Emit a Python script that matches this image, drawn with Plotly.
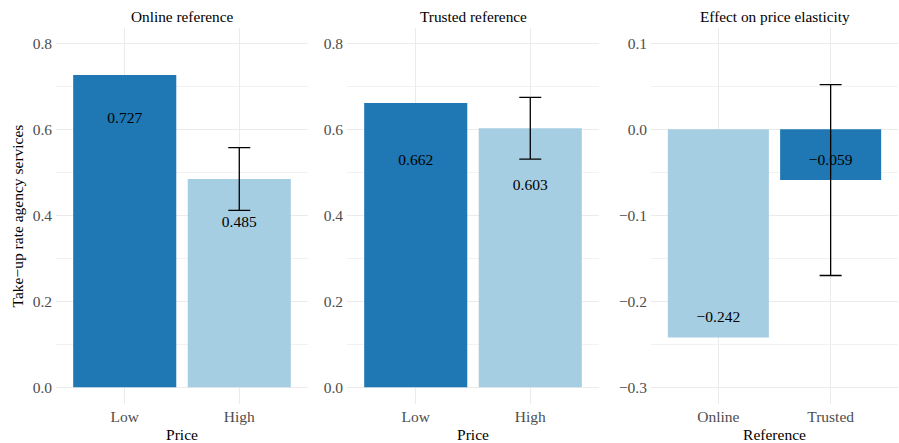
import plotly.graph_objects as go

# ---- data ----
price_levels = ["Low", "High"]
online_takeup = [0.727, 0.485]
online_err = [None, 0.073]
trusted_takeup = [0.662, 0.603]
trusted_err = [None, 0.072]
reference_levels = ["Online", "Trusted"]
elasticity = [-0.242, -0.059]
elasticity_err = [None, 0.111]

panel_titles = ["Online reference", "Trusted reference", "Effect on price elasticity"]
label_shift_takeup_online = -0.102
label_shift_takeup_trusted = -0.135
label_shift_elasticity = 0.022

DARK = "#1F78B4"
LIGHT = "#A6CEE3"
FONT = "Liberation Serif, Times New Roman, serif"

W, H = 899, 443
ML, MR, MT, MB = 56, 0, 28, 39
PW = W - ML - MR

def dom(a, b):
    return [(a - ML) / PW, (b - ML) / PW]

domains = [dom(56, 308), dom(347, 599), dom(651, 898)]

fig = go.Figure()

def fmt(v):
    s = f"{v:.3f}"
    return s.replace("-", "\u2212")

def add_panel(i, cats, vals, errs, colors, shift):
    xa = "x" if i == 0 else f"x{i+1}"
    ya = "y" if i == 0 else f"y{i+1}"
    fig.add_trace(go.Bar(
        x=cats, y=vals, marker=dict(color=colors, line=dict(width=0)),
        width=0.9, xaxis=xa, yaxis=ya, showlegend=False, hoverinfo="skip",
    ))
    ex = [c for c, e in zip(cats, errs) if e is not None]
    ey = [v for v, e in zip(vals, errs) if e is not None]
    ee = [e for e in errs if e is not None]
    fig.add_trace(go.Scatter(
        x=ex, y=ey, mode="markers", marker=dict(size=0.1, opacity=0),
        error_y=dict(type="data", array=ee, visible=True, color="black",
                     thickness=1.3, width=11),
        xaxis=xa, yaxis=ya, showlegend=False, hoverinfo="skip",
    ))
    fig.add_trace(go.Scatter(
        x=cats, y=[v + shift for v in vals], mode="text",
        text=[fmt(v) for v in vals],
        textfont=dict(family=FONT, size=15.5, color="black"),
        textposition="middle center",
        xaxis=xa, yaxis=ya, showlegend=False, hoverinfo="skip",
    ))

add_panel(0, price_levels, online_takeup, online_err, [DARK, LIGHT], label_shift_takeup_online)
add_panel(1, price_levels, trusted_takeup, trusted_err, [DARK, LIGHT], label_shift_takeup_trusted)
add_panel(2, reference_levels, elasticity, elasticity_err, [LIGHT, DARK], label_shift_elasticity)

grid = "#EBEBEB"
tickfont = dict(family=FONT, size=15.5, color="#4D4D4D")
titlefont = dict(family=FONT, size=15.5, color="black")

layout = dict(
    width=W, height=H, margin=dict(l=ML, r=MR, t=MT, b=MB),
    plot_bgcolor="white", paper_bgcolor="white",
    font=dict(family=FONT), showlegend=False, bargap=0.1,
)

yranges = [[-0.039, 0.8365], [-0.039, 0.8365], [-0.3194, 0.1178]]
ydticks = [0.2, 0.2, 0.1]
xtitles = ["Price", "Price", "Reference"]
for i in range(3):
    sx = "" if i == 0 else str(i + 1)
    layout[f"xaxis{sx}"] = dict(
        domain=domains[i], anchor=f"y{sx}", type="category",
        range=[-0.6, 1.6], showgrid=True, gridcolor=grid, gridwidth=1.1,
        zeroline=False, showline=False, ticks="", tickfont=tickfont,
        ticklabelstandoff=1,
        title=dict(text=xtitles[i], font=titlefont, standoff=6),
        fixedrange=True,
    )
    minor_dt = ydticks[i] / 2
    layout[f"yaxis{sx}"] = dict(
        domain=[0, 1], anchor=f"x{sx}", range=yranges[i],
        dtick=ydticks[i], tick0=0, tickformat=".1f",
        showgrid=True, gridcolor=grid, gridwidth=1.1,
        minor=dict(dtick=minor_dt, tick0=0, showgrid=True, gridcolor="#F2F2F2", gridwidth=0.8),
        zeroline=False, showline=False, ticks="", tickfont=tickfont,
        ticklabelstandoff=3,
    )
layout["yaxis"]["title"] = dict(text="Take\u2212up rate agency services", font=titlefont, standoff=5)

annotations = []
for i, t in enumerate(panel_titles):
    d = domains[i]
    annotations.append(dict(
        text=t, x=(d[0] + d[1]) / 2, y=1, xref="paper", yref="paper",
        xanchor="center", yanchor="bottom", yshift=1, showarrow=False,
        font=dict(family=FONT, size=15.3, color="black"),
    ))
layout["annotations"] = annotations

fig.update_layout(**layout)
fig.write_html("out.html")
